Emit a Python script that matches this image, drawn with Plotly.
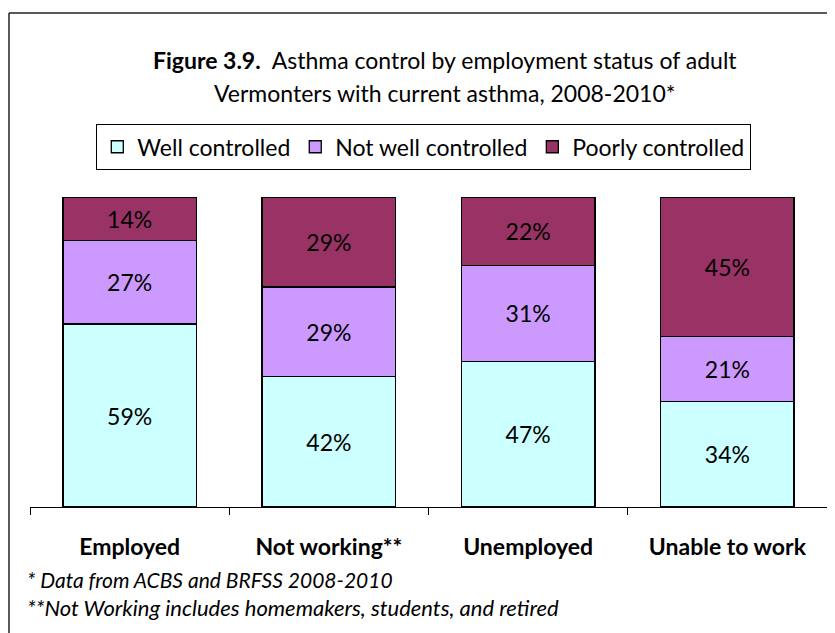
import plotly.graph_objects as go

categories = ["Employed", "Not working**", "Unemployed", "Unable to work"]
well_controlled = [59, 42, 47, 34]
not_well_controlled = [27, 29, 31, 21]
poorly_controlled = [14, 29, 22, 45]
series_names = ["Well controlled", "Not well controlled", "Poorly controlled"]
series_colors = ["#CCFFFF", "#CC99FF", "#993366"]

FONT = "Lato"

W, H = 835, 633
OFF = 8  # page body margin offset
# screen-pixel plot area: x 30..827, y 197..507
L = 30 - OFF
R = W - (827 - OFF)
T = 197 - OFF
B = H - (507 - OFF)
pw, ph = W - L - R, H - T - B


def px_x(x):
    return (x - OFF - L) / pw


def px_y(y):
    return (H - B - (y - OFF)) / ph


fig = go.Figure()
for name, vals, col in zip(series_names,
                           [well_controlled, not_well_controlled, poorly_controlled],
                           series_colors):
    fig.add_trace(go.Bar(
        x=categories, y=vals, name=name,
        marker=dict(color=col, line=dict(color="black", width=1.3)),
        text=[f"{v}%" for v in vals],
        textposition="inside", insidetextanchor="middle", textangle=0,
        textfont=dict(family=FONT, size=23, color="black"),
        constraintext="none",
        hoverinfo="skip",
    ))

fig.update_layout(
    width=W, height=H, autosize=False,
    margin=dict(l=L, r=R, t=T, b=B, pad=0),
    paper_bgcolor="white", plot_bgcolor="white",
    barmode="stack", bargap=0.33,
    font=dict(family=FONT, color="black"),
    showlegend=True,
    legend=dict(
        orientation="h", traceorder="normal",
        x=px_x(423.5), xanchor="center", y=px_y(124), yanchor="top",
        bordercolor="black", borderwidth=1.3, bgcolor="white",
        font=dict(family=FONT, size=23, color="black"),
        itemwidth=30, tracegroupgap=0,
    ),
    xaxis=dict(
        showline=True, linecolor="black", linewidth=1.3,
        ticks="outside", tickson="boundaries", ticklen=7, tickwidth=1.3, tickcolor="black",
        tickfont=dict(family=FONT, size=23, color="black", weight="bold"),
        ticklabelstandoff=19,
        showgrid=False, zeroline=False, fixedrange=True,
    ),
    yaxis=dict(range=[0, 100], visible=False, showgrid=False, fixedrange=True),
)

fig.add_annotation(
    xref="paper", yref="paper", x=px_x(445), y=px_y(60),
    xanchor="center", yanchor="middle", showarrow=False,
    text="<b>Figure 3.9.</b>  Asthma control by employment status of adult",
    font=dict(family=FONT, size=23, color="black"),
)
fig.add_annotation(
    xref="paper", yref="paper", x=px_x(445), y=px_y(93),
    xanchor="center", yanchor="middle", showarrow=False,
    text="Vermonters with current asthma, 2008-2010*",
    font=dict(family=FONT, size=23, color="black"),
)
fig.add_annotation(
    xref="paper", yref="paper", x=px_x(25), y=px_y(579),
    xanchor="left", yanchor="middle", showarrow=False,
    text="<i>* Data from ACBS and BRFSS 2008-2010</i>",
    font=dict(family=FONT, size=21, color="black"),
)
fig.add_annotation(
    xref="paper", yref="paper", x=px_x(25), y=px_y(607),
    xanchor="left", yanchor="middle", showarrow=False,
    text="<i>**Not Working includes homemakers, students, and retired</i>",
    font=dict(family=FONT, size=22, color="black"),
)

# chart frame (top and left edges visible in the reference crop)
fig.add_shape(type="line", xref="paper", yref="paper",
              x0=px_x(9), x1=px_x(850), y0=px_y(13), y1=px_y(13),
              line=dict(color="#222222", width=1.5))
fig.add_shape(type="line", xref="paper", yref="paper",
              x0=px_x(9), x1=px_x(9), y0=px_y(13), y1=px_y(650),
              line=dict(color="#222222", width=1.5))

fig.write_html("out.html")
